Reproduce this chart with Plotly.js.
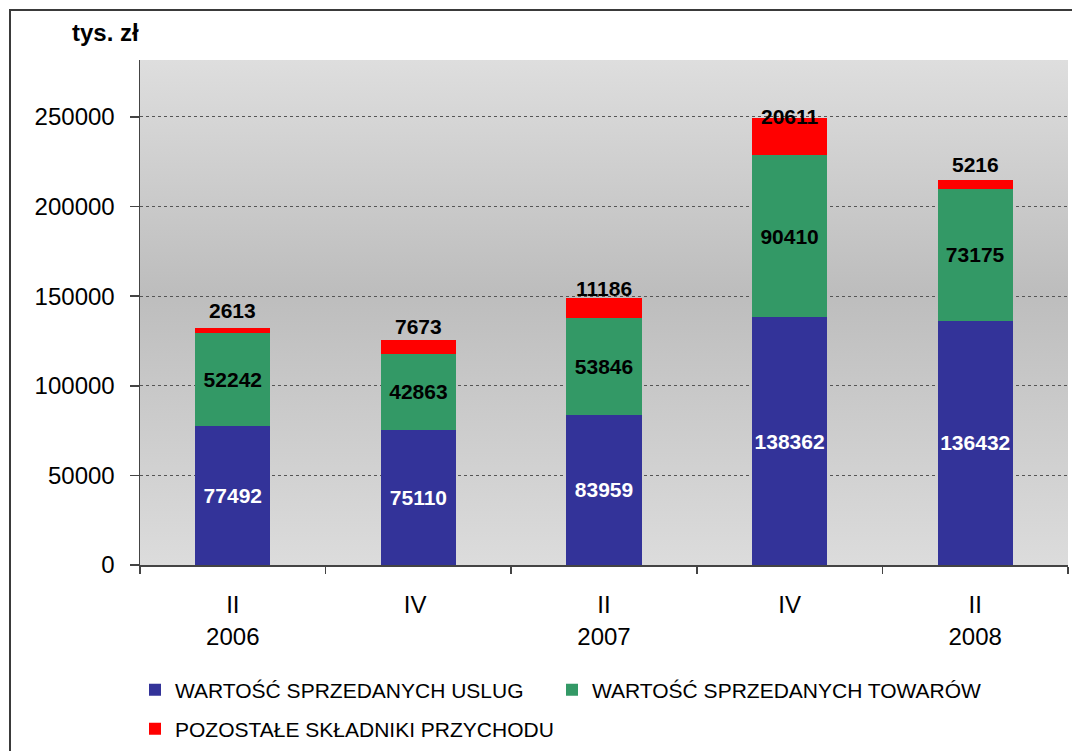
<!DOCTYPE html>
<html>
<head>
<meta charset="utf-8">
<script src="https://cdn.plot.ly/plotly-3.0.1.min.js"></script>
<style>
  html, body { margin: 0; padding: 0; background: #ffffff; overflow: hidden; }
  #wrap { position: relative; width: 1072px; height: 751px; }
  #frame { position: absolute; left: 9px; top: 9px; width: 1100px; height: 800px; border: 2px solid #3a3a3a; box-sizing: border-box; pointer-events: none; z-index: 5; }
  #chart { position: absolute; left: 0; top: 0; width: 1072px; height: 751px; }
</style>
</head>
<body>
<div id="wrap">
  <div id="chart"></div>
  <div id="frame"></div>
</div>
<script>
// ---- data ----
const categories = ["II<br>2006", "IV ", "II<br>2007", "IV", "II<br>2008"];
const uslugi   = [77492, 75110, 83959, 138362, 136432];
const towary   = [52242, 42863, 53846, 90410, 73175];
const pozostale = [2613, 7673, 11186, 20611, 5216];
const seriesNames = [
  "WARTOŚĆ SPRZEDANYCH USLUG",
  "WARTOŚĆ SPRZEDANYCH TOWARÓW",
  "POZOSTAŁE SKŁADNIKI PRZYCHODU"
];
const yTicks = [0, 50000, 100000, 150000, 200000, 250000];
const unitLabel = "tys. zł";

const colors = ["#333399", "#339966", "#ff0000"];
const FONT = "Liberation Sans, Arial, sans-serif";

const traces = [
  {
    type: "bar", name: seriesNames[0], x: categories, y: uslugi,
    marker: { color: colors[0], line: { width: 0 } },
    text: uslugi.map(String), textposition: "inside", insidetextanchor: "middle",
    textangle: 0, constraintext: "none",
    insidetextfont: { family: FONT, size: 21, color: "#ffffff", weight: "bold" },
    hoverinfo: "skip", legend: "legend"
  },
  {
    type: "bar", name: seriesNames[1], x: categories, y: towary,
    marker: { color: colors[1], line: { width: 0 } },
    text: towary.map(String), textposition: "inside", insidetextanchor: "middle",
    textangle: 0, constraintext: "none",
    insidetextfont: { family: FONT, size: 21, color: "#000000", weight: "bold" },
    hoverinfo: "skip", legend: "legend2"
  },
  {
    type: "bar", name: seriesNames[2], x: categories, y: pozostale,
    marker: { color: colors[2], line: { width: 0 } },
    textposition: "none",
    hoverinfo: "skip", legend: "legend3"
  }
];

// labels of the top (red) segment, placed just above its centre
const annotations = pozostale.map((v, i) => ({
  x: categories[i], y: uslugi[i] + towary[i] + v / 2,
  xref: "x", yref: "y", text: String(v), showarrow: false,
  yshift: 20,
  font: { family: FONT, size: 21, color: "#000000", weight: "bold" }
}));
annotations.push({
  x: (70 - 140) / 928, y: 1 + (60 - 33) / 505, xref: "paper", yref: "paper",
  text: "<b>" + unitLabel + "</b>",
  showarrow: false, xanchor: "left", yanchor: "middle",
  font: { family: FONT, size: 24, color: "#000000" }
});

const gradSvg = '<svg xmlns="http://www.w3.org/2000/svg" width="100" height="100" preserveAspectRatio="none">' +
  '<defs><linearGradient id="g" x1="0" y1="0" x2="0" y2="1">' +
  '<stop offset="0" stop-color="#dedede"/>' +
  '<stop offset="0.46" stop-color="#bdbdbd"/>' +
  '<stop offset="1" stop-color="#dcdcdc"/>' +
  '</linearGradient></defs><rect width="100" height="100" fill="url(#g)"/></svg>';

const legendFont = { family: FONT, size: 21, color: "#000" };
function legendAt(px, py) {
  return {
    orientation: "h",
    x: (px - 140) / 928, xanchor: "left",
    y: -(py - 565) / 505, yanchor: "middle",
    font: legendFont,
    bgcolor: "rgba(0,0,0,0)",
    itemclick: false, itemdoubleclick: false
  };
}

const layout = {
  width: 1072, height: 751,
  margin: { l: 140, r: 4, t: 60, b: 186, autoexpand: false },
  paper_bgcolor: "rgba(0,0,0,0)",
  plot_bgcolor: "rgba(0,0,0,0)",
  barmode: "stack",
  bargap: 0.595,
  showlegend: true,
  font: { family: FONT, color: "#000000" },
  images: [{
    source: "data:image/svg+xml;charset=utf-8," + encodeURIComponent(gradSvg),
    xref: "paper", yref: "paper", x: 0, y: 1, sizex: 1, sizey: 1,
    xanchor: "left", yanchor: "top", sizing: "stretch", layer: "below"
  }],
  xaxis: {
    type: "category",
    tickson: "boundaries", ticks: "outside", ticklen: 7, tickwidth: 1.5, tickcolor: "#444",
    showline: true, linecolor: "#444", linewidth: 1.5,
    showgrid: false, zeroline: false,
    tickfont: { family: FONT, size: 24, color: "#000" },
    ticklabelstandoff: 18,
    fixedrange: true
  },
  yaxis: {
    range: [0, 281800],
    tickvals: yTicks, ticktext: yTicks.map(String),
    ticks: "outside", ticklen: 9, tickwidth: 1.5, tickcolor: "#444",
    showline: true, linecolor: "#444", linewidth: 1.5,
    showgrid: true, gridcolor: "#555555", gridwidth: 1, griddash: "dot",
    zeroline: false,
    tickfont: { family: FONT, size: 24, color: "#000" },
    ticklabelstandoff: 10,
    fixedrange: true
  },
  legend: legendAt(135, 690),
  legend2: legendAt(552, 690),
  legend3: legendAt(135, 729),
  annotations: annotations
};

Plotly.newPlot("chart", traces, layout, { displayModeBar: false, staticPlot: true });
</script>
</body>
</html>
